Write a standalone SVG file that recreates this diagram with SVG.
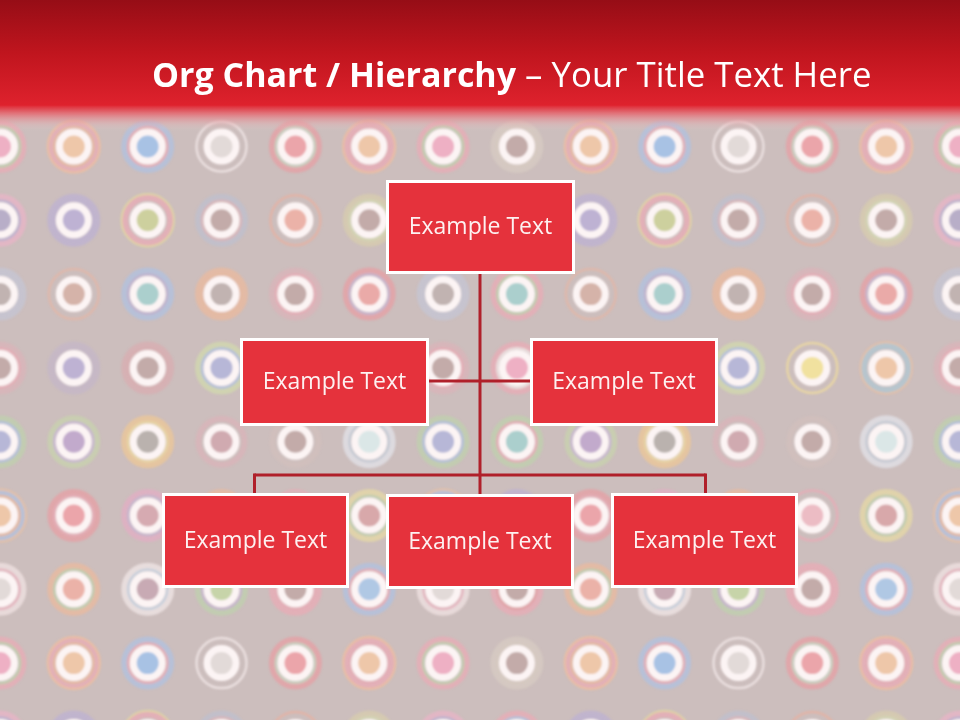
<svg xmlns="http://www.w3.org/2000/svg" xmlns:xlink="http://www.w3.org/1999/xlink" width="960" height="720" viewBox="0 0 960 720">
<style>
.o{fill:none;stroke-width:6;stroke-opacity:.7}
.i{fill:none;stroke-width:3;stroke-opacity:.7}
.t{fill:none;stroke-width:2.5;stroke-opacity:.75}
.w{stroke:#fcf4f4;stroke-width:7}
.f{opacity:.5}
.node rect{fill:#e5323c;stroke:#ffffff;stroke-width:3}
.node text{font-family:"Open Sans","Noto Sans",sans-serif;font-size:23px;fill:#fdf1f1;text-anchor:middle}
.conn line{stroke:#b0202a;stroke-width:3;stroke-linecap:butt}
</style>
<defs>
<linearGradient id="bar" x1="0" y1="0" x2="0" y2="1">
<stop offset="0" stop-color="#960d16"/>
<stop offset="0.5" stop-color="#c0151e"/>
<stop offset="1" stop-color="#df222d"/>
</linearGradient>
<linearGradient id="fade" x1="0" y1="0" x2="0" y2="1">
<stop offset="0" stop-color="#df222d" stop-opacity="1"/>
<stop offset="0.35" stop-color="#e46c74" stop-opacity="0.85"/>
<stop offset="1" stop-color="#e8d2d2" stop-opacity="0"/>
</linearGradient>
<filter id="soft" x="-5%" y="-5%" width="110%" height="110%"><feGaussianBlur stdDeviation="1"/></filter>
<g id="c01"><circle class="o" r="23.5" stroke="#ebaab5"/><circle class="t" r="26" stroke="#ecc0a0"/><circle class="i" r="19.5" stroke="#ecb99b"/><circle class="w" r="14.5" fill="#eec7a9"/></g>
<g id="c02"><circle class="o" r="23.5" stroke="#aec2e2"/><circle class="i" r="19.5" stroke="#ebaab5"/><circle class="w" r="14.5" fill="#a8c2e4"/></g>
<g id="c03"><circle class="t" r="25" stroke="#f4eaea"/><circle class="w" r="14.5" fill="#e2dad8"/></g>
<g id="c04"><circle class="o" r="23.5" stroke="#e89ca2"/><circle class="i" r="19.5" stroke="#c9d4c0"/><circle class="w" r="14.5" fill="#eba5aa"/></g>
<g id="c05"><circle class="o" r="23.5" stroke="#ebaab5"/><circle class="t" r="26" stroke="#ecc0a0"/><circle class="i" r="19.5" stroke="#ebaab5"/><circle class="w" r="14.5" fill="#eec7a9"/></g>
<g id="c06"><circle class="o" r="23.5" stroke="#ebaab5"/><circle class="i" r="20" stroke="#bed2ac"/><circle class="w" r="14.5" fill="#eeb0c4"/></g>
<g id="c07"><circle class="o f" r="23.5" stroke="#e6dccc"/><circle class="i" r="19.5" stroke="#d9cdc2"/><circle class="w" r="14.5" fill="#c3aba9"/></g>
<g id="c11"><circle class="o" r="23.5" stroke="#bcb0d4"/><circle class="i" r="19.5" stroke="#bcb0d4"/><circle class="w" r="14.5" fill="#beb2d3"/></g>
<g id="c12"><circle class="t" r="26" stroke="#e4dc9e"/><circle class="o" r="22.5" stroke="#ebaab5"/><circle class="w" r="14.5" fill="#cdd09e"/></g>
<g id="c13"><circle class="o f" r="23.5" stroke="#aec2e2"/><circle class="i f" r="19.5" stroke="#ebaab5"/><circle class="w" r="14.5" fill="#c3aba9"/></g>
<g id="c14"><circle class="t" r="25" stroke="#e8b0a0"/><circle class="w" r="14.5" fill="#ebb2a8"/></g>
<g id="c15"><circle class="o f" r="23.5" stroke="#e6e09e"/><circle class="i" r="19.5" stroke="#d4dcb0"/><circle class="w" r="14.5" fill="#c3aba9"/></g>
<g id="c16"><circle class="o" r="23.5" stroke="#ebb4c8"/><circle class="i" r="19.5" stroke="#bcb0d4"/><circle class="w" r="14.5" fill="#b8aec8"/></g>
<g id="c17"><circle class="o" r="23.5" stroke="#ebaab5"/><circle class="i" r="19.5" stroke="#aec2e2"/><circle class="w" r="14.5" fill="#b7b7d7"/></g>
<g id="c21"><circle class="t" r="25" stroke="#e4b6a6"/><circle class="w" r="14.5" fill="#d5b3a9"/></g>
<g id="c22"><circle class="o" r="23.5" stroke="#aec2e2"/><circle class="i" r="19.5" stroke="#bcb0d4"/><circle class="w" r="14.5" fill="#abcfcd"/></g>
<g id="c23"><circle class="o" r="23.5" stroke="#ecb99b"/><circle class="i" r="19.5" stroke="#ecb99b"/><circle class="w" r="14.5" fill="#c1b3b1"/></g>
<g id="c24"><circle class="o f" r="23.5" stroke="#ebaab5"/><circle class="i" r="19.5" stroke="#ebaab5"/><circle class="w" r="14.5" fill="#c3aba9"/></g>
<g id="c25"><circle class="o" r="23.5" stroke="#e89ca2"/><circle class="i" r="19.5" stroke="#c6b4d2"/><circle class="w" r="14.5" fill="#eaaaa8"/></g>
<g id="c26"><circle class="o" r="23.5" stroke="#c4c6d6"/><circle class="i" r="19.5" stroke="#c4c6d6"/><circle class="w" r="14.5" fill="#c1b3b1"/></g>
<g id="c27"><circle class="o" r="23.5" stroke="#ebaab5"/><circle class="i" r="19.5" stroke="#bed2ac"/><circle class="w" r="14.5" fill="#abcfcd"/></g>
<g id="c31"><circle class="o f" r="23.5" stroke="#bcb0d4"/><circle class="i f" r="19.5" stroke="#bcb0d4"/><circle class="w" r="14.5" fill="#beb2d3"/></g>
<g id="c32"><circle class="o f" r="23.5" stroke="#e89ca2"/><circle class="i f" r="19.5" stroke="#e89ca2"/><circle class="w" r="14.5" fill="#c3aba9"/></g>
<g id="c33"><circle class="o" r="23.5" stroke="#d2dcac"/><circle class="i" r="19.5" stroke="#aec2e2"/><circle class="w" r="14.5" fill="#b7b7d7"/></g>
<g id="c34"><circle class="t" r="25" stroke="#f0dc9e"/><circle class="w" r="14.5" fill="#f1e19f"/></g>
<g id="c35"><circle class="t" r="25.5" stroke="#ecc0a0"/><circle class="o" r="22" stroke="#aec8d4"/><circle class="w" r="14.5" fill="#eec7a9"/></g>
<g id="c36"><circle class="o f" r="23.5" stroke="#ebaab5"/><circle class="i" r="19.5" stroke="#ebaab5"/><circle class="w" r="14.5" fill="#c3aba9"/></g>
<g id="c37"><circle class="o" r="23.5" stroke="#ebaab5"/><circle class="i" r="19.5" stroke="#f4eaea"/><circle class="w" r="14.5" fill="#eeb0c4"/></g>
<g id="c41"><circle class="o" r="23.5" stroke="#c8d4ac"/><circle class="i" r="19.5" stroke="#c8b6d6"/><circle class="w" r="14.5" fill="#c2aacc"/></g>
<g id="c42"><circle class="o" r="23.5" stroke="#efc894"/><circle class="i" r="19.5" stroke="#f0dc9e"/><circle class="w" r="14.5" fill="#bab2ae"/></g>
<g id="c43"><circle class="o f" r="23" stroke="#ebaab5"/><circle class="w" r="14.5" fill="#d0aab0"/></g>
<g id="c44"><circle class="o f" r="23" stroke="#d9c2bc"/><circle class="w" r="14.5" fill="#c3aba9"/></g>
<g id="c45"><circle class="o" r="23.5" stroke="#e4e6ec"/><circle class="i" r="19.5" stroke="#c4cedc"/><circle class="w" r="14.5" fill="#dbe7e7"/></g>
<g id="c46"><circle class="o" r="23.5" stroke="#bed2ac"/><circle class="i" r="19.5" stroke="#aec2e2"/><circle class="w" r="14.5" fill="#b7b7d7"/></g>
<g id="c47"><circle class="o" r="23.5" stroke="#bed2ac"/><circle class="i" r="19.5" stroke="#ebaab5"/><circle class="w" r="14.5" fill="#abcfcd"/></g>
<g id="c51"><circle class="o" r="23.5" stroke="#e89ca2"/><circle class="i" r="19.5" stroke="#ebaab5"/><circle class="w" r="14.5" fill="#eba5aa"/></g>
<g id="c52"><circle class="o" r="23.5" stroke="#e4acc4"/><circle class="i" r="19.5" stroke="#c6b4d2"/><circle class="w" r="14.5" fill="#d6aab1"/></g>
<g id="c53"><circle class="o" r="23.5" stroke="#ecb99b"/><circle class="i" r="19.5" stroke="#bed2ac"/><circle class="w" r="14.5" fill="#ebb2a8"/></g>
<g id="c54"><circle class="t" r="25" stroke="#ebaab5"/><circle class="w" r="14.5" fill="#ecbcc4"/></g>
<g id="c55"><circle class="o" r="23.5" stroke="#e8dca4"/><circle class="i" r="19.5" stroke="#bed2ac"/><circle class="w" r="14.5" fill="#d8a8aa"/></g>
<g id="c56"><circle class="o" r="23.5" stroke="#aec2e2"/><circle class="t" r="26" stroke="#ecc0a0"/><circle class="i" r="19.5" stroke="#ecb99b"/><circle class="w" r="14.5" fill="#eec7a9"/></g>
<g id="c57"><circle class="o" r="23.5" stroke="#bcb0d4"/><circle class="i" r="19.5" stroke="#ebaab5"/><circle class="w" r="14.5" fill="#a8c2e4"/></g>
<g id="c61"><circle class="o" r="23.5" stroke="#ecb99b"/><circle class="i" r="19.5" stroke="#bed2ac"/><circle class="w" r="14.5" fill="#ebb2a8"/></g>
<g id="c62"><circle class="o" r="23.5" stroke="#f4eaea"/><circle class="i" r="19.5" stroke="#c8d6e6"/><circle class="w" r="14.5" fill="#c8aab4"/></g>
<g id="c63"><circle class="o" r="23.5" stroke="#bed2ac"/><circle class="i" r="19.5" stroke="#c6b4d2"/><circle class="w" r="14.5" fill="#c7d4a9"/></g>
<g id="c64"><circle class="o" r="23.5" stroke="#ebaab5"/><circle class="i" r="19.5" stroke="#ebaab5"/><circle class="w" r="14.5" fill="#c3aba9"/></g>
<g id="c65"><circle class="o" r="23.5" stroke="#aec2e2"/><circle class="i" r="19.5" stroke="#ebaab5"/><circle class="w" r="14.5" fill="#b0c8e4"/></g>
<g id="c66"><circle class="o" r="23.5" stroke="#f4e6e6"/><circle class="i" r="19.5" stroke="#ebb4c0"/><circle class="w" r="14.5" fill="#e2dad8"/></g>
<g id="c67"><circle class="o" r="23.5" stroke="#ebaab5"/><circle class="i" r="19.5" stroke="#e89ca2"/><circle class="w" r="14.5" fill="#c3aba9"/></g>
<g id="r0"><use href="#c06"/><use href="#c01" x="73.8"/><use href="#c02" x="147.7"/><use href="#c03" x="221.5"/><use href="#c04" x="295.4"/><use href="#c05" x="369.2"/><use href="#c06" x="443.1"/><use href="#c07" x="516.9"/><use href="#c01" x="590.8"/><use href="#c02" x="664.6"/><use href="#c03" x="738.5"/><use href="#c04" x="812.3"/><use href="#c05" x="886.2"/><use href="#c06" x="960"/></g>
<g id="r1"><use href="#c16"/><use href="#c11" x="73.8"/><use href="#c12" x="147.7"/><use href="#c13" x="221.5"/><use href="#c14" x="295.4"/><use href="#c15" x="369.2"/><use href="#c16" x="443.1"/><use href="#c17" x="516.9"/><use href="#c11" x="590.8"/><use href="#c12" x="664.6"/><use href="#c13" x="738.5"/><use href="#c14" x="812.3"/><use href="#c15" x="886.2"/><use href="#c16" x="960"/></g>
<g id="r2"><use href="#c26"/><use href="#c21" x="73.8"/><use href="#c22" x="147.7"/><use href="#c23" x="221.5"/><use href="#c24" x="295.4"/><use href="#c25" x="369.2"/><use href="#c26" x="443.1"/><use href="#c27" x="516.9"/><use href="#c21" x="590.8"/><use href="#c22" x="664.6"/><use href="#c23" x="738.5"/><use href="#c24" x="812.3"/><use href="#c25" x="886.2"/><use href="#c26" x="960"/></g>
<g id="r3"><use href="#c36"/><use href="#c31" x="73.8"/><use href="#c32" x="147.7"/><use href="#c33" x="221.5"/><use href="#c34" x="295.4"/><use href="#c35" x="369.2"/><use href="#c36" x="443.1"/><use href="#c37" x="516.9"/><use href="#c31" x="590.8"/><use href="#c32" x="664.6"/><use href="#c33" x="738.5"/><use href="#c34" x="812.3"/><use href="#c35" x="886.2"/><use href="#c36" x="960"/></g>
<g id="r4"><use href="#c46"/><use href="#c41" x="73.8"/><use href="#c42" x="147.7"/><use href="#c43" x="221.5"/><use href="#c44" x="295.4"/><use href="#c45" x="369.2"/><use href="#c46" x="443.1"/><use href="#c47" x="516.9"/><use href="#c41" x="590.8"/><use href="#c42" x="664.6"/><use href="#c43" x="738.5"/><use href="#c44" x="812.3"/><use href="#c45" x="886.2"/><use href="#c46" x="960"/></g>
<g id="r5"><use href="#c56"/><use href="#c51" x="73.8"/><use href="#c52" x="147.7"/><use href="#c53" x="221.5"/><use href="#c54" x="295.4"/><use href="#c55" x="369.2"/><use href="#c56" x="443.1"/><use href="#c57" x="516.9"/><use href="#c51" x="590.8"/><use href="#c52" x="664.6"/><use href="#c53" x="738.5"/><use href="#c54" x="812.3"/><use href="#c55" x="886.2"/><use href="#c56" x="960"/></g>
<g id="r6"><use href="#c66"/><use href="#c61" x="73.8"/><use href="#c62" x="147.7"/><use href="#c63" x="221.5"/><use href="#c64" x="295.4"/><use href="#c65" x="369.2"/><use href="#c66" x="443.1"/><use href="#c67" x="516.9"/><use href="#c61" x="590.8"/><use href="#c62" x="664.6"/><use href="#c63" x="738.5"/><use href="#c64" x="812.3"/><use href="#c65" x="886.2"/><use href="#c66" x="960"/></g>
</defs>
<g id="background">
<rect x="0" y="0" width="960" height="720" fill="#ccbebd"/>
<g filter="url(#soft)">
<use href="#r0" y="146.5"/>
<use href="#r1" y="220.3"/>
<use href="#r2" y="294.1"/>
<use href="#r3" y="367.9"/>
<use href="#r4" y="441.7"/>
<use href="#r5" y="515.5"/>
<use href="#r6" y="589.3"/>
<use href="#r0" y="663.1"/>
<use href="#r1" y="736.9"/>
</g>
</g>
<g id="title-bar">
<rect x="0" y="0" width="960" height="106" fill="url(#bar)"/>
<rect x="0" y="105" width="960" height="26" fill="url(#fade)"/>
<text x="152" y="87" font-family="'Open Sans','Noto Sans',sans-serif" font-size="34" fill="#ffffff"><tspan font-weight="700">Org Chart / Hierarchy</tspan><tspan font-size="34.8"> – Your Title Text Here</tspan></text>
</g>
<g id="connectors" class="conn">
<line x1="480" y1="273" x2="480" y2="476"/>
<line x1="428" y1="381" x2="532" y2="381"/>
<line x1="254.5" y1="475" x2="705.5" y2="475"/>
<line x1="254.5" y1="473.5" x2="254.5" y2="495"/>
<line x1="480" y1="475" x2="480" y2="496"/>
<line x1="705.5" y1="473.5" x2="705.5" y2="495"/>
</g>
<g id="node-top" class="node"><rect x="387.5" y="181.5" width="186" height="91"/><text x="480.5" y="234">Example Text</text></g>
<g id="node-mid-left" class="node"><rect x="241.5" y="339.5" width="186" height="85"/><text x="334.5" y="389">Example Text</text></g>
<g id="node-mid-right" class="node"><rect x="531.5" y="339.5" width="185" height="85"/><text x="624" y="389">Example Text</text></g>
<g id="node-bottom-left" class="node"><rect x="163.5" y="494.5" width="184" height="92"/><text x="255.5" y="548">Example Text</text></g>
<g id="node-bottom-mid" class="node"><rect x="387.5" y="495.5" width="185" height="92"/><text x="480" y="549">Example Text</text></g>
<g id="node-bottom-right" class="node"><rect x="612.5" y="494.5" width="184" height="92"/><text x="704.5" y="548">Example Text</text></g>
</svg>
